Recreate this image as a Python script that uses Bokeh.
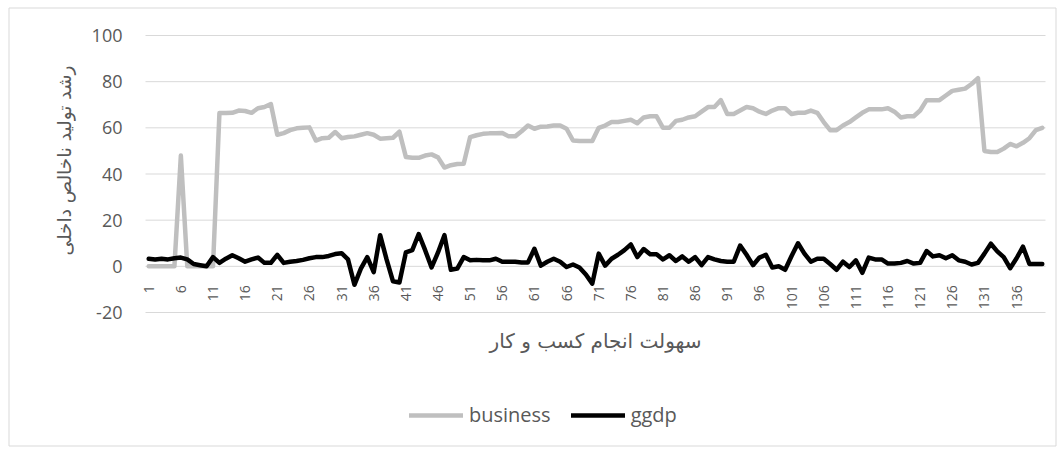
import math
from bokeh.plotting import figure
from bokeh.models import Legend, LegendItem, Range1d
from bokeh.embed import file_html
from bokeh.resources import INLINE
from bokeh.core.properties import value

# ---------------- data ----------------
periods = list(range(1, 141))

business = [
    0, 0, 0, 0, 0, 48, 0, 0, 0, 0,
    0, 66.4, 66.4, 66.5, 67.5, 67.3, 66.5, 68.5, 69, 70.3,
    57, 57.7, 59, 59.8, 60, 60.2, 54.5, 55.5, 55.7, 58.2,
    55.5, 56, 56.3, 57, 57.7, 57, 55.3, 55.5, 55.7, 58.3,
    47.4, 47, 47, 48, 48.5, 47.2, 42.8, 43.8, 44.3, 44.4,
    56, 56.8, 57.4, 57.6, 57.7, 57.8, 56.3, 56.3, 58.5, 61,
    59.6, 60.5, 60.6, 61, 61, 59.6, 54.5, 54.3, 54.3, 54.3,
    60, 61, 62.5, 62.5, 63, 63.5, 62, 64.5, 65, 65,
    60, 60, 63, 63.5, 64.5, 65, 67, 69, 69, 72,
    66, 66, 67.5, 69, 68.5, 67, 66, 67.5, 68.5, 68.5,
    66, 66.5, 66.5, 67.5, 66.5, 62.5, 59, 59, 61, 62.5,
    64.5, 66.5, 68, 68, 68, 68.5, 67, 64.5, 65, 65,
    67.5, 72, 72, 72, 74, 76, 76.5, 77, 79, 81.5,
    50, 49.5, 49.5, 51, 53, 52, 53.5, 55.5, 59, 60,
]

ggdp = [
    3.3, 3, 3.3, 3, 3.5, 3.8, 3, 1, 0.5, 0,
    4, 1.5, 3.3, 4.8, 3.5, 2, 3, 3.8, 1.5, 1.5,
    5, 1.5, 2, 2.3, 2.8, 3.5, 4, 4, 4.5, 5.3,
    5.7, 3, -8, -1, 4, -2.5, 13.5, 3, -6.5, -7,
    6, 7, 14, 7, -0.5, 6, 13.5, -1.5, -1, 4,
    2.6, 2.8, 2.6, 2.6, 3.3, 2, 2, 2, 1.7, 1.7,
    7.6, 0.3, 2, 3.3, 2, -0.3, 0.8, -0.5, -3.5, -7.5,
    5.5, 0.3, 3.3, 5, 7, 9.5, 4, 7.5, 5.2, 5.2,
    3, 4.8, 2.3, 4.3, 2, 4, 0.5, 4, 3, 2.3,
    2, 2, 9, 5, 0.5, 3.8, 5, -0.5, 0, -1.5,
    4.5, 10, 5.5, 2, 3.3, 3.3, 1, -1.5, 2, -0.3,
    2.6, -2.8, 3.8, 3, 3, 1.2, 1.2, 1.5, 2.3, 1.2,
    1.5, 6.6, 4.3, 4.8, 3.5, 4.8, 2.6, 2, 0.8, 1.5,
    5.5, 9.8, 6.5, 4, -0.8, 3.5, 8.5, 1, 1, 1,
]

x_tick_labels = ["1", "6", "11", "16", "21", "26", "31", "36", "41", "46",
                 "51", "56", "61", "66", "71", "76", "81", "86", "91", "96",
                 "101", "106", "111", "116", "121", "126", "131", "136"]
y_ticks = [-20, 0, 20, 40, 60, 80, 100]
y_tick_labels = ["-20", "0", "20", "40", "60", "80", "100"]
x_title = "سهولت انجام کسب و کار"
y_title = "رشد تولید ناخالص داخلی"
series_names = ["business", "ggdp"]

# ---------------- geometry (pixels) ----------------
W, H = 1060, 448
PL, PR, PT, PB = 145, 1045, 35, 312          # plot area in canvas pixels
X0, X1 = 0.5, 140.5                          # category span
Y0, Y1 = -20, 100                            # value span
xpp = (X1 - X0) / (PR - PL)                  # data units per pixel
ypp = (Y1 - Y0) / (PB - PT)


def px_x(px):
    return X0 + (px - PL) * xpp


def px_y(py):
    return Y0 + (PB - py) * ypp


TXT = "#595959"
p = figure(width=W, height=H, output_backend="svg", toolbar_location=None,
           x_range=Range1d(px_x(0), px_x(W)), y_range=Range1d(px_y(H), px_y(0)),
           x_axis_location=None, y_axis_location=None,
           min_border_left=0, min_border_right=0,
           min_border_top=0, min_border_bottom=0)
p.outline_line_color = None
p.background_fill_color = "white"
p.border_fill_color = "white"
for g in p.grid:
    g.visible = False

# chart-area border
p.quad(left=[px_x(8.5)], right=[px_x(1055.5)], top=[px_y(7.5)], bottom=[px_y(445.5)],
       fill_color=None, line_color="#d9d9d9", line_width=1)

# horizontal gridlines at the value-axis ticks
p.segment(x0=[X0] * len(y_ticks), x1=[X1] * len(y_ticks), y0=y_ticks, y1=y_ticks,
          line_color="#d9d9d9", line_width=1)

# value-axis tick labels
p.text(x=[X0] * len(y_ticks), y=y_ticks, text=y_tick_labels, x_offset=-23,
       text_align="right", text_baseline="middle",
       text_font=value("Open Sans"), text_font_size="18px", text_color=TXT)

r1 = p.line(periods, business, line_color="#bfbfbf", line_width=4.5,
            line_join="round", line_cap="round")
r2 = p.line(periods, ggdp, line_color="black", line_width=4.5,
            line_join="round", line_cap="round")

# category tick labels: vertical, hanging just below the zero line
tick_x = [int(s) for s in x_tick_labels]
digit_px = 8.0
tick_off = [19 + len(s) * digit_px / 2 for s in x_tick_labels]
p.text(x=tick_x, y=[0] * len(tick_x), text=x_tick_labels, angle=math.pi / 2,
       text_align="center", text_baseline="middle", y_offset=tick_off,
       text_font=value("Open Sans"), text_font_size="14px", text_color=TXT)

# axis titles
p.text(x=[(X0 + X1) / 2], y=[Y0], text=[x_title], y_offset=28,
       text_align="center", text_baseline="middle",
       text_font=value("DejaVu Sans"), text_font_size="20px", text_color=TXT)
p.text(x=[X0], y=[px_y(160)], text=[y_title], x_offset=-81, angle=math.pi / 2,
       text_align="center", text_baseline="middle",
       text_font=value("DejaVu Sans"), text_font_size="18.5px", text_color=TXT)

legend = Legend(items=[LegendItem(label=series_names[0], renderers=[r1]),
                       LegendItem(label=series_names[1], renderers=[r2])],
                orientation="horizontal", location=(409, 20),
                glyph_width=54, glyph_height=20, label_standoff=6, spacing=20,
                padding=5, margin=0, border_line_color=None,
                background_fill_alpha=0,
                label_text_font="Open Sans", label_text_font_size="20px",
                label_text_color=TXT)
p.add_layout(legend)

open("out.html", "w").write(file_html(p, INLINE))
